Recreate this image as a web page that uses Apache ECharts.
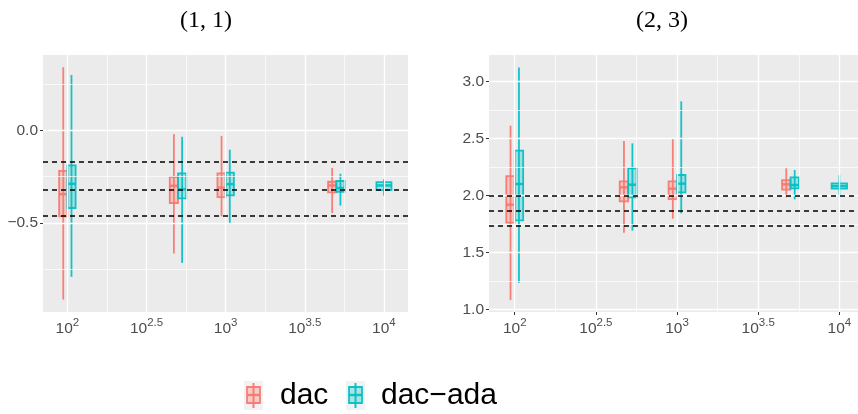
<!DOCTYPE html>
<html>
<head>
<meta charset="utf-8">
<script src="https://cdn.jsdelivr.net/npm/echarts@6/dist/echarts.min.js"></script>
<style>
  html, body { margin: 0; padding: 0; background: #fff; }
  #chart { width: 858px; height: 414px; }
</style>
</head>
<body>
<div id="chart"></div>
<script>
'use strict';
// sample sizes on the x axis (log10 scale)
var sizes = [100, 500, 1000, 5000, 10000];
var xTicks = [2, 2.5, 3, 3.5, 4];
var xMinor = [2.25, 2.75, 3.25, 3.75];

// box stats: [lower whisker, Q1, median, Q3, upper whisker], null = no box
var dac11 = [
  [-0.914, -0.464, -0.344, -0.218, 0.342],
  [-0.665, -0.392, -0.299, -0.252, -0.020],
  [-0.464, -0.360, -0.309, -0.232, -0.029],
  [-0.446, -0.335, -0.297, -0.277, -0.203],
  null
];
var ada11 = [
  [-0.791, -0.419, -0.288, -0.189, 0.300],
  [-0.716, -0.367, -0.318, -0.232, -0.034],
  [-0.505, -0.351, -0.290, -0.228, -0.104],
  [-0.406, -0.331, -0.311, -0.273, -0.234],
  [-0.353, -0.322, -0.297, -0.279, -0.263]
];
var ref11 = [-0.173, -0.315, -0.464];
var yTicks11 = [-0.5, 0];
var yMinor11 = [-0.75, -0.25, 0.25];

var dac23 = [
  [1.082, 1.761, 1.919, 2.171, 2.613],
  [1.673, 1.949, 2.072, 2.124, 2.479],
  [1.796, 1.969, 2.060, 2.124, 2.499],
  [1.984, 2.051, 2.098, 2.136, 2.239],
  null
];
var ada23 = [
  [1.234, 1.782, 2.101, 2.394, 3.126],
  [1.691, 1.984, 2.095, 2.239, 2.458],
  [1.843, 2.028, 2.104, 2.180, 2.827],
  [1.966, 2.063, 2.092, 2.160, 2.224],
  [1.990, 2.060, 2.083, 2.107, 2.180]
];
var ref23 = [2.004, 1.867, 1.726];
var yTicks23 = [1, 1.5, 2, 2.5, 3];
var yMinor23 = [1.25, 1.75, 2.25, 2.75];

var RED = '248,118,109';
var CYAN = '0,191,196';

var chart = echarts.init(document.getElementById('chart'));

function toData(stats) {
  var out = [];
  sizes.forEach(function (n, i) {
    if (stats[i]) out.push([Math.log10(n)].concat(stats[i], [i]));
  });
  return out;
}

// draws one box; side -1 = left of the dodge, +1 = right
function boxItem(rgb, side, other) {
  return function (params, api) {
    var i = api.value(6);
    var paired = other[i] != null;
    var w = paired ? 0.052 : 0.095;
    var c = api.value(0) + (paired ? side * 0.026 : 0);
    var lo = api.coord([c - w / 2, api.value(2)]);
    var hi = api.coord([c + w / 2, api.value(4)]);
    var m1 = api.coord([c - w / 2, api.value(3)]);
    var m2 = api.coord([c + w / 2, api.value(3)]);
    var wl = api.coord([c, api.value(1)]);
    var wh = api.coord([c, api.value(5)]);
    var stroke = 'rgba(' + rgb + ',0.92)';
    return {
      type: 'group',
      children: [
        { type: 'line', shape: { x1: wl[0], y1: wl[1], x2: wh[0], y2: wh[1] },
          style: { stroke: stroke, lineWidth: 1.8 } },
        { type: 'rect', shape: { x: lo[0], y: hi[1], width: hi[0] - lo[0], height: lo[1] - hi[1] },
          style: { fill: 'rgba(' + rgb + ',0.3)', stroke: stroke, lineWidth: 1.8 } },
        { type: 'line', shape: { x1: m1[0], y1: m1[1], x2: m2[0], y2: m2[1] },
          style: { stroke: stroke, lineWidth: 2.5 } }
      ]
    };
  };
}

function lines(axis, vals, width) {
  return vals.map(function (v) {
    var d = {}; d[axis] = v;
    d.lineStyle = { color: '#fff', width: width, type: 'solid' };
    return d;
  });
}

function panelSeries(k, dac, ada, ref, yTicks, yMinor) {
  var grid = [];
  grid = grid.concat(lines('xAxis', xTicks, 1.3), lines('xAxis', xMinor, 0.7),
                     lines('yAxis', yTicks, 1.3), lines('yAxis', yMinor, 0.7));
  var markBase = { silent: true, symbol: 'none', animation: false, label: { show: false },
                   emphasis: { disabled: true } };
  return [
    { type: 'line', xAxisIndex: k, yAxisIndex: k, data: [], z: 1,
      markLine: Object.assign({ data: grid }, markBase) },
    { type: 'custom', name: 'dac', xAxisIndex: k, yAxisIndex: k, z: 2,
      renderItem: boxItem(RED, -1, ada), data: toData(dac), encode: { x: 0, y: [1, 2, 3, 4, 5] } },
    { type: 'custom', name: 'dac-ada', xAxisIndex: k, yAxisIndex: k, z: 2,
      renderItem: boxItem(CYAN, 1, dac), data: toData(ada), encode: { x: 0, y: [1, 2, 3, 4, 5] } },
    { type: 'line', xAxisIndex: k, yAxisIndex: k, data: [], z: 3,
      markLine: Object.assign({
        data: ref.map(function (v) {
          return { yAxis: v, lineStyle: { color: '#000', width: 1.5, type: [5, 4] } };
        })
      }, markBase) }
  ];
}

var labelFont = { color: '#4D4D4D', fontFamily: 'Liberation Sans', fontSize: 15.5 };

function xAxis(k, min, max) {
  return {
    type: 'value', gridIndex: k, min: min, max: max,
    axisLine: { show: false },
    splitLine: { show: false },
    axisTick: { customValues: xTicks, length: 3, lineStyle: { color: '#333' } },
    axisLabel: {
      customValues: xTicks, margin: 5,
      formatter: function (v) { return '{b|10}{s|' + v + '}'; },
      rich: {
        b: Object.assign({ verticalAlign: 'bottom' }, labelFont),
        s: { color: '#4D4D4D', fontFamily: 'Liberation Sans', fontSize: 11.5,
             verticalAlign: 'bottom', padding: [0, 0, 8, 0] }
      }
    }
  };
}

function yAxis(k, min, max, ticks) {
  return {
    type: 'value', gridIndex: k, min: min, max: max,
    axisLine: { show: false },
    splitLine: { show: false },
    axisTick: { show: true, customValues: ticks, length: 3, lineStyle: { color: '#333' } },
    axisLabel: Object.assign({
      customValues: ticks, margin: 5,
      formatter: function (v) { return v.toFixed(1).replace('-', '\u2212'); }
    }, labelFont)
  };
}

function legendKey(x, rgb) {
  var stroke = 'rgba(' + rgb + ',0.92)';
  return [
    { type: 'rect', shape: { x: x, y: 381, width: 19, height: 29 }, style: { fill: '#F2F2F2' } },
    { type: 'line', shape: { x1: x + 9.5, y1: 383, x2: x + 9.5, y2: 408 }, style: { stroke: stroke, lineWidth: 2 } },
    { type: 'rect', shape: { x: x + 3, y: 387, width: 13, height: 16 },
      style: { fill: 'rgba(' + rgb + ',0.3)', stroke: stroke, lineWidth: 1.8 } },
    { type: 'line', shape: { x1: x + 3, y1: 395, x2: x + 16, y2: 395 }, style: { stroke: stroke, lineWidth: 2.4 } }
  ];
}

var titleFont = '24px "Liberation Serif"';
var legendFont = '30px "Liberation Sans"';

var option = {
  animation: false,
  backgroundColor: '#fff',
  grid: [
    { left: 43, top: 55, width: 365, height: 257, show: true, backgroundColor: '#EBEBEB', borderWidth: 0 },
    { left: 489, top: 55, width: 369, height: 257, show: true, backgroundColor: '#EBEBEB', borderWidth: 0 }
  ],
  xAxis: [xAxis(0, 1.846, 4.152), xAxis(1, 1.8415, 4.115)],
  yAxis: [yAxis(0, -0.981, 0.408, yTicks11), yAxis(1, 0.976, 3.235, yTicks23)],
  series: panelSeries(0, dac11, ada11, ref11, yTicks11, yMinor11)
    .concat(panelSeries(1, dac23, ada23, ref23, yTicks23, yMinor23)),
  graphic: [
    { type: 'text', style: { x: 206, y: 21, text: '(1, 1)', font: titleFont, fill: '#000',
      textAlign: 'center', textVerticalAlign: 'middle' } },
    { type: 'text', style: { x: 662, y: 21, text: '(2, 3)', font: titleFont, fill: '#000',
      textAlign: 'center', textVerticalAlign: 'middle' } },
    { type: 'text', style: { x: 280, y: 396, text: 'dac', font: legendFont, fill: '#000',
      textVerticalAlign: 'middle' } },
    { type: 'text', style: { x: 381, y: 396, text: 'dac\u2212ada', font: legendFont, fill: '#000',
      textVerticalAlign: 'middle' } }
  ].concat(legendKey(244, RED), legendKey(346, CYAN))
};

chart.setOption(option);
</script>
</body>
</html>
